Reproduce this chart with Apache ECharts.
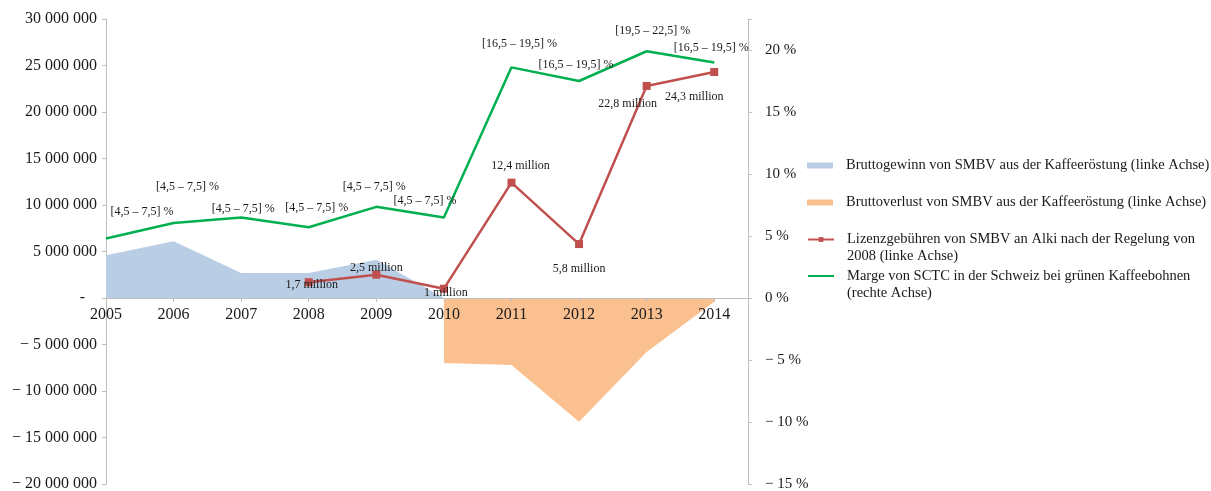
<!DOCTYPE html>
<html><head><meta charset="utf-8">
<script src="https://cdn.jsdelivr.net/npm/echarts@6/dist/echarts.min.js"></script>
<style>html,body{margin:0;padding:0;background:#fff}#c{width:1211px;height:491px}</style>
</head><body><div id="c"></div>
<script>
// ---- data ----
const years = [2005, 2006, 2007, 2008, 2009, 2010, 2011, 2012, 2013, 2014];
const grossProfit = [4600000, 6100000, 2700000, 2700000, 4100000, 0, null, null, null, null];
const grossLoss = [null, null, null, null, null, -7000000, -7200000, -13300000, -5800000, -400000];
const royalties = [null, null, null, 1700000, 2500000, 1000000, 12400000, 5800000, 22800000, 24300000];
const sctcMargin = [4.8, 6.05, 6.5, 5.7, 7.35, 6.5, 18.6, 17.5, 19.9, 19.0];
const marginRanges = ['[4,5 – 7,5] %', '[4,5 – 7,5] %', '[4,5 – 7,5] %', '[4,5 – 7,5] %', '[4,5 – 7,5] %',
  '[4,5 – 7,5] %', '[16,5 – 19,5] %', '[16,5 – 19,5] %', '[19,5 – 22,5] %', '[16,5 – 19,5] %'];
const seriesNames = [
  'Bruttogewinn von SMBV aus der Kaffeeröstung (linke Achse)',
  'Bruttoverlust von SMBV aus der Kaffeeröstung (linke Achse)',
  'Lizenzgebühren von SMBV an Alki nach der Regelung von 2008 (linke Achse)',
  'Marge von SCTC in der Schweiz bei grünen Kaffeebohnen (rechte Achse)'
];
const legendLines = [
  ['Bruttogewinn von SMBV aus der Kaffeeröstung (linke Achse)'],
  ['Bruttoverlust von SMBV aus der Kaffeeröstung (linke Achse)'],
  ['Lizenzgebühren von SMBV an Alki nach der Regelung von', '2008 (linke Achse)'],
  ['Marge von SCTC in der Schweiz bei grünen Kaffeebohnen', '(rechte Achse)']
];

// ---- label placement (style, not data) ----
const royaltyLabelOffsets = [null, null, null, [3, 3], [0, -7], [2, 4], [9, -17], [0, 25], [-19, 18], [-20, 25]];
const marginLabelOffsets = [[36, -27], [14, -36], [2, -9], [8, -19], [-2, -20], [-19, -17], [8, -24], [-3, -16], [6, -20], [-3, -15]];

const FONT = '"Liberation Serif", "DejaVu Serif", serif';
const TXT = '#1a1a1a';
const AXC = '#bfbfbf';
const C_BLUE = '#b9cde5', C_ORANGE = '#fac090', C_RED = '#c0504d', C_GREEN = '#00b050';

function fmtLeft(v) {
  if (v === 0) return '-   ';
  const s = Math.abs(v).toString().replace(/\B(?=(\d{3})+(?!\d))/g, ' ');
  return v < 0 ? '− ' + s : s;
}
function fmtRight(v) {
  if (v > 20.01) return '';
  if (v < 0) return '− ' + (-v) + ' %';
  return v + ' %';
}
const pair = (arr) => years.map((y, i) => [y, arr[i]]);

const chart = echarts.init(document.getElementById('c'), null, { renderer: 'canvas' });

function legendFor(i, top, extra) {
  const item = Object.assign({ name: seriesNames[i] }, extra || {});
  const lines = legendLines[i];
  // multi-line entries: a blank leading line keeps the icon level with the first text line
  const text = lines.length > 1 ? ' \n' + lines.join('\n') : lines[0];
  return {
    show: true, orient: 'vertical', left: 807, top: top, padding: 0,
    itemWidth: 26, itemHeight: 6, selectedMode: false,
    data: [item],
    formatter: () => text,
    textStyle: { fontFamily: FONT, fontSize: 14.5, lineHeight: 17, color: TXT, padding: [0, 0, 0, 8] }
  };
}

const option = {
  animation: false,
  backgroundColor: '#fff',
  grid: { left: 106, right: 463, top: 19, bottom: 7, containLabel: false, outerBoundsMode: 'none' },
  legend: [
    legendFor(0, 157, { icon: 'rect', itemStyle: { color: C_BLUE } }),
    legendFor(1, 194, { icon: 'rect', itemStyle: { color: C_ORANGE } }),
    legendFor(2, 214),
    legendFor(3, 250.5, { itemStyle: { opacity: 0 } })
  ],
  xAxis: {
    type: 'value', min: 2005, max: 2014.5, interval: 1,
    offset: -186, z: 10,
    axisLine: { onZero: false, lineStyle: { color: AXC, width: 1 } },
    axisTick: { show: true, length: 4, lineStyle: { color: AXC } },
    splitLine: { show: false },
    axisLabel: {
      margin: 9, fontFamily: FONT, fontSize: 16, color: TXT,
      formatter: (v) => (Number.isInteger(v) ? String(v) : '')
    }
  },
  yAxis: [
    {
      type: 'value', min: -20000000, max: 30000000, interval: 5000000,
      axisLine: { show: true, onZero: false, lineStyle: { color: AXC } },
      axisTick: { show: true, length: 4, lineStyle: { color: AXC } },
      splitLine: { show: false },
      axisLabel: { margin: 9, fontFamily: FONT, fontSize: 16, color: TXT, formatter: fmtLeft }
    },
    {
      type: 'value', min: -15, max: 22.5, interval: 5, position: 'right',
      axisLine: { show: true, onZero: false, lineStyle: { color: AXC } },
      axisTick: { show: true, length: 4, lineStyle: { color: AXC } },
      splitLine: { show: false },
      axisLabel: { margin: 17, fontFamily: FONT, fontSize: 15, color: TXT, formatter: fmtRight }
    }
  ],
  series: [
    {
      name: seriesNames[0], type: 'line', yAxisIndex: 0, data: pair(grossProfit),
      symbol: 'none', lineStyle: { width: 0 }, itemStyle: { color: C_BLUE },
      areaStyle: { color: C_BLUE, opacity: 1 }, z: 1
    },
    {
      name: seriesNames[1], type: 'line', yAxisIndex: 0, data: pair(grossLoss),
      symbol: 'none', lineStyle: { width: 0 }, itemStyle: { color: C_ORANGE },
      areaStyle: { color: C_ORANGE, opacity: 1 }, z: 1
    },
    {
      name: seriesNames[2], type: 'line', yAxisIndex: 0,
      data: years.map((y, i) => royalties[i] == null ? [y, null] : {
        value: [y, royalties[i]],
        label: { offset: royaltyLabelOffsets[i] }
      }),
      symbol: 'rect', symbolSize: 8,
      lineStyle: { width: 2.5, color: C_RED }, itemStyle: { color: C_RED },
      label: {
        show: true, position: 'inside', fontFamily: FONT, fontSize: 12, color: TXT,
        formatter: (p) => (p.value[1] / 1e6).toLocaleString('de-DE') + ' million'
      },
      z: 12
    },
    {
      name: seriesNames[3], type: 'line', yAxisIndex: 1,
      data: years.map((y, i) => ({
        value: [y, sctcMargin[i]],
        label: { offset: marginLabelOffsets[i] }
      })),
      symbol: 'circle', symbolSize: 0.5, showSymbol: true,
      lineStyle: { width: 2.5, color: C_GREEN }, itemStyle: { color: C_GREEN },
      label: {
        show: true, position: 'inside', fontFamily: FONT, fontSize: 12, color: TXT,
        formatter: (p) => marginRanges[p.dataIndex]
      },
      z: 11
    }
  ]
};
chart.setOption(option);
</script>
</body></html>
